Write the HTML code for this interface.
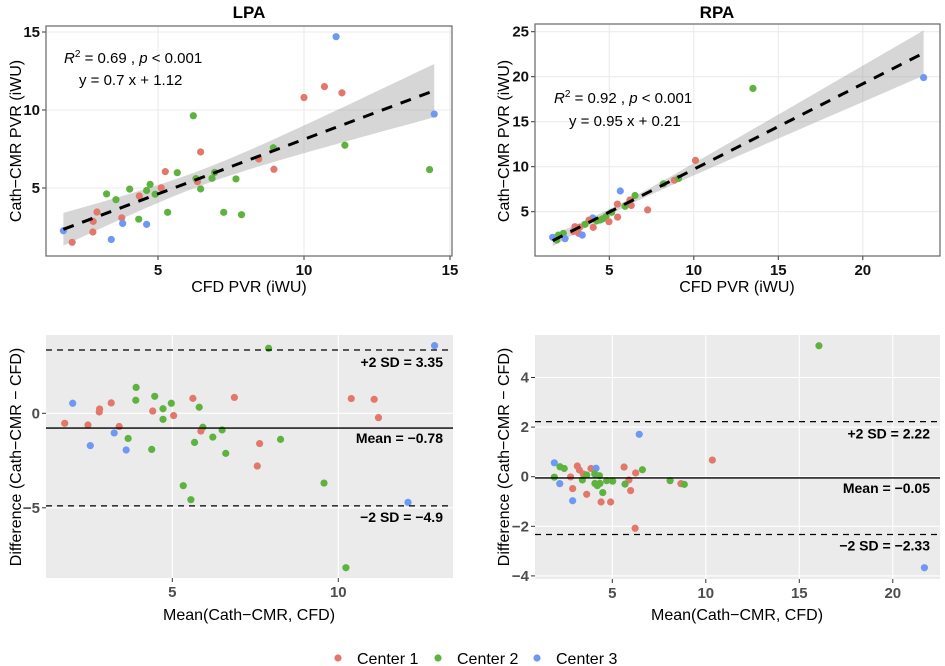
<!DOCTYPE html>
<html><head><meta charset="utf-8">
<style>
html,body{margin:0;padding:0;background:#fff;}
svg{display:block;font-family:"Liberation Sans",Arial,sans-serif;}
</style></head>
<body>
<svg id="chart" width="945" height="666" viewBox="0 0 945 666"></svg>
<script>
// ---- LPA scatter data ----
const lpaX=[11.1,10.7,11.3,10.0,14.46,6.21,8.95,11.4,6.46,8.45,8.97,14.3,5.25,5.66,6.94,6.3,6.35,6.85,7.67,6.46,5.11,4.73,4.61,4.03,4.36,3.24,3.56,2.91,2.78,3.76,3.79,4.34,4.61,5.33,7.25,7.86,2.77,3.4,1.76,2.06,4.9];
const lpaY=[14.7,11.5,11.1,10.8,9.74,9.63,7.58,7.74,7.31,6.86,6.2,6.18,6.05,5.98,6.0,5.6,5.41,5.62,5.58,4.94,5.01,5.23,4.84,4.93,4.49,4.62,4.25,3.46,2.86,3.09,2.73,3.0,2.67,3.44,3.44,3.29,2.18,1.7,2.26,1.52,4.6];
const lpaC=[3,1,1,1,3,2,2,2,1,1,1,2,1,2,2,2,1,2,2,2,1,2,2,2,1,2,2,1,1,1,3,2,3,2,2,2,1,3,3,1,2];
const lpaFit=[0.7,1.12];
// ---- RPA scatter data ----
const rpaX=[23.6,13.5,10.1,8.85,9.1,8.2,5.65,6.52,6.22,5.48,6.3,5.93,7.27,5.14,4.8,5.49,4.98,4.45,4.02,3.8,4.25,4.05,3.56,2.97,3.23,2.87,3.19,3.4,2.28,1.99,1.65,2.38,1.89,4.6];
const rpaY=[19.9,18.7,10.7,8.5,8.7,8.1,7.3,6.8,6.3,5.85,5.7,5.6,5.2,4.93,4.45,4.4,3.89,4.07,4.3,4.07,3.97,3.26,3.6,3.33,3.26,2.8,2.6,2.4,2.6,2.4,2.15,2.0,1.85,4.2];
const rpaC=[3,2,1,1,2,2,3,2,1,1,1,2,1,2,2,1,1,2,3,1,2,1,2,1,1,1,1,3,2,2,3,3,2,2];
const rpaFit=[0.95,0.21];
// ---- LPA Bland-Altman data ----
const baLX=[12.9,7.9,3.91,3.9,4.47,2.0,3.16,2.81,2.8,4.41,4.72,4.97,5.62,6.87,5.81,10.39,11.08,11.21,5.04,4.72,1.76,2.46,3.4,5.92,5.86,6.5,6.22,3.25,3.67,5.67,7.63,8.26,2.53,3.61,4.38,6.61,7.56,5.33,9.57,5.56,12.1,10.23];
const baLY=[3.58,3.44,1.37,0.69,0.9,0.53,0.55,0.23,0.07,0.12,0.24,0.53,0.79,0.84,0.32,0.78,0.74,-0.23,-0.12,-0.32,-0.53,-0.62,-0.7,-0.74,-0.94,-0.88,-1.26,-1.04,-1.33,-1.54,-1.6,-1.38,-1.71,-1.94,-1.91,-2.12,-2.79,-3.83,-3.69,-4.57,-4.71,-8.17];
const baLC=[3,2,2,2,2,3,1,1,1,1,2,2,1,1,2,1,1,1,1,2,1,1,1,2,1,2,2,3,2,2,1,2,3,3,2,2,1,2,2,2,3,2];
const baLLines=[3.35,-0.78,-4.9];
const baLLabels=["+2 SD = 3.35","Mean = \u22120.78","\u22122 SD = \u22124.9"];
// ---- RPA Bland-Altman data ----
const baRX=[16.05,6.44,10.35,1.9,2.2,2.43,3.13,3.24,3.86,4.13,5.63,6.61,3.45,3.63,4.06,4.31,2.77,1.9,6.25,3.4,4.7,5.02,8.09,5.89,4.07,4.34,4.2,8.67,8.85,5.68,2.19,2.88,5.98,4.49,3.63,2.88,4.4,4.91,6.22,21.69];
const baRY=[5.28,1.71,0.67,0.56,0.4,0.33,0.43,0.27,0.33,0.34,0.39,0.28,0.11,0.07,0.11,0.04,-0.01,-0.02,0.15,-0.13,-0.16,-0.18,-0.16,-0.13,-0.27,-0.27,-0.36,-0.28,-0.31,-0.3,-0.28,-0.48,-0.56,-0.64,-0.71,-0.97,-1.02,-1.02,-2.08,-3.67];
const baRC=[2,3,1,3,2,2,1,1,1,3,1,2,1,2,2,2,1,2,1,2,2,2,2,1,2,2,2,1,2,2,3,1,1,2,1,3,1,1,1,3];
const baRLines=[2.22,-0.05,-2.33];
const baRLabels=["+2 SD = 2.22","Mean = \u22120.05","\u22122 SD = \u22122.33"];
// ---- tick labels ----
const lpaXTicks=[5,10,15], lpaYTicks=[5,10,15];
const rpaXTicks=[5,10,15,20], rpaYTicks=[5,10,15,20,25];
const baLXTicks=[5,10], baLYTicks=[-5,0];
const baRXTicks=[5,10,15,20], baRYTicks=[-4,-2,0,2,4];

const colors={1:"#E2786C",2:"#5DB33D",3:"#6E98F3"};
const NS="http://www.w3.org/2000/svg";
const svg=document.getElementById('chart');
function mk(tag,attrs,parent){const e=document.createElementNS(NS,tag);for(const k in attrs)e.setAttribute(k,attrs[k]);(parent||svg).appendChild(e);return e;}
function lin(d0,d1,r0,r1){return v=>r0+(v-d0)*(r1-r0)/(d1-d0);}

function panel(o){
  const g=mk('g',{});
  
  
  const X=o.sx,Y=o.sy;
  const bg=mk('rect',{x:o.l,y:o.t,width:o.r-o.l,height:o.b-o.t,fill:o.ba?'#EBEBEB':'#fff'},g);
  
  
  const gc=o.ba?'#fff':'#EBEBEB';
  o.xt.forEach(v=>{const l=mk('line',{x1:X(v),x2:X(v),y1:o.t,y2:o.b,stroke:gc,'stroke-width':1.1},g);
    });
  o.yt.forEach(v=>{const l=mk('line',{x1:o.l,x2:o.r,y1:Y(v),y2:Y(v),stroke:gc,'stroke-width':1.1},g);
    });
  const tc=o.ba?'#4D4D4D':'#111';
  o.xt.forEach(v=>{mk('line',{x1:X(v),x2:X(v),y1:o.b,y2:o.b+4,stroke:'#333'},g);
    const t=mk('text',{x:X(v),y:o.b+19,'text-anchor':'middle','font-size':15,'font-weight':'bold',fill:tc},g);t.textContent=v;
    });
  o.yt.forEach(v=>{mk('line',{x1:o.l-4,x2:o.l,y1:Y(v),y2:Y(v),stroke:'#333'},g);
    const t=mk('text',{x:o.l-6,y:Y(v)+5,'text-anchor':'end','font-size':15,'font-weight':'bold',fill:tc},g);t.textContent=String(v).replace('-','\u2212');
    });
  if(o.fit){
    const xs=o.px, n=xs.length, m=xs.reduce((a,b)=>a+b,0)/n;
    const x0=Math.min(...xs),x1=Math.max(...xs);
    const up=[],lo=[];
    for(let i=0;i<=40;i++){const x=x0+(x1-x0)*i/40;const yy=o.fit[0]*x+o.fit[1];const hw=Math.sqrt(o.band[0]+o.band[1]*(x-m)*(x-m));
      up.push(X(x)+','+Y(yy+hw));lo.unshift(X(x)+','+Y(yy-hw));}
    const band=mk('polygon',{points:up.concat(lo).join(' '),fill:'#999','fill-opacity':0.4},g);
    
  }
  o.px.forEach((x,i)=>{const c=mk('circle',{cx:X(x),cy:Y(o.py[i]),r:3.6,fill:colors[o.pc[i]]},g);
    });
  if(o.fit){
    const x0=Math.min(...o.px),x1=Math.max(...o.px);
    const l=mk('line',{x1:X(x0),y1:Y(o.fit[0]*x0+o.fit[1]),x2:X(x1),y2:Y(o.fit[0]*x1+o.fit[1]),stroke:'#000','stroke-width':3,'stroke-dasharray':'11,9'},g);
    
  }
  if(o.lines){
    o.lines.forEach((v,i)=>{const l=mk('line',{x1:o.l,x2:o.r,y1:Y(v),y2:Y(v),stroke:'#000','stroke-width':1.3,'stroke-dasharray':i==1?'none':'6,5'},g);
      
      const t=mk('text',{x:o.r-10,y:Y(v)+(i==1?15:-2)+(i==0?19:i==2?18:0),'text-anchor':'end','font-size':14,'font-weight':'bold',fill:'#000'},g);
      t.textContent=o.labels[i];});
  }
  if(!o.ba){const b=mk('rect',{x:o.l,y:o.t,width:o.r-o.l,height:o.b-o.t,fill:'none',stroke:'#666','stroke-width':1.2},g);
    }
}
panel({name:'lpa-scatter',l:46,r:452,t:26,b:256,sx:lin(0,5,12,158),sy:lin(0,5,266,188),xt:lpaXTicks,yt:lpaYTicks,px:lpaX,py:lpaY,pc:lpaC,fit:lpaFit,band:[0.25,0.0408]});
panel({name:'rpa-scatter',l:535,r:940,t:24,b:256,sx:lin(0,5,524.8,609.3),sy:lin(0,5,256.7,211.7),xt:rpaXTicks,yt:rpaYTicks,px:rpaX,py:rpaY,pc:rpaC,fit:rpaFit,band:[0.09,0.0193]});
panel({name:'lpa-bland-altman',ba:true,l:46,r:453,t:335,b:578,sx:lin(0,5,6.3,172.3),sy:lin(0,5,413.3,318.8),xt:baLXTicks,yt:baLYTicks,px:baLX,py:baLY,pc:baLC,lines:baLLines,labels:baLLabels});
panel({name:'rpa-bland-altman',ba:true,l:535,r:940,t:335,b:579,sx:lin(0,5,518.8,612.3),sy:lin(0,2,476.7,427.1),xt:baRXTicks,yt:baRYTicks,px:baRX,py:baRY,pc:baRC,lines:baRLines,labels:baRLabels});

function txt(s,attrs,name){const t=mk('text',attrs);t.textContent=s;return t;}
txt('LPA',{x:249,y:18,'text-anchor':'middle','font-size':17,'font-weight':'bold'},'lpa-title');
txt('RPA',{x:717,y:18,'text-anchor':'middle','font-size':17,'font-weight':'bold'},'rpa-title');
txt('CFD PVR (iWU)',{x:249,y:292,'text-anchor':'middle','font-size':16},'x-axis-title');
txt('CFD PVR (iWU)',{x:737,y:292,'text-anchor':'middle','font-size':16},'x-axis-title');
txt('Mean(Cath\u2212CMR, CFD)',{x:249,y:620,'text-anchor':'middle','font-size':16},'x-axis-title');
txt('Mean(Cath\u2212CMR, CFD)',{x:737,y:620,'text-anchor':'middle','font-size':16},'x-axis-title');
txt('Cath\u2212CMR PVR (iWU)',{x:0,y:0,'text-anchor':'middle','font-size':16,transform:'translate(21,141) rotate(-90)'},'y-axis-title');
txt('Cath\u2212CMR PVR (iWU)',{x:0,y:0,'text-anchor':'middle','font-size':16,transform:'translate(509,141) rotate(-90)'},'y-axis-title');
txt('Difference (Cath\u2212CMR \u2212 CFD)',{x:0,y:0,'text-anchor':'middle','font-size':16,transform:'translate(21,457) rotate(-90)'},'y-axis-title');
txt('Difference (Cath\u2212CMR \u2212 CFD)',{x:0,y:0,'text-anchor':'middle','font-size':16,transform:'translate(509,457) rotate(-90)'},'y-axis-title');
// annotations
const a1=mk('text',{x:64,y:63,'font-size':15});
a1.innerHTML='<tspan font-style="italic">R</tspan><tspan dy="-6" font-size="10">2</tspan><tspan dy="6"> = 0.69 , </tspan><tspan font-style="italic">p</tspan><tspan> &lt; 0.001</tspan>';
txt('y = 0.7 x + 1.12',{x:79,y:85,'font-size':15},'lpa-equation');
const a2=mk('text',{x:554,y:103,'font-size':15});
a2.innerHTML='<tspan font-style="italic">R</tspan><tspan dy="-6" font-size="10">2</tspan><tspan dy="6"> = 0.92 , </tspan><tspan font-style="italic">p</tspan><tspan> &lt; 0.001</tspan>';
txt('y = 0.95 x + 0.21',{x:569,y:126,'font-size':15},'rpa-equation');
// legend
const legX=[338,438,537], legN=['Center 1','Center 2','Center 3'];
legN.forEach((n,i)=>{const c=mk('circle',{cx:legX[i],cy:658,r:3.6,fill:colors[i+1]});
  
  txt(n,{x:legX[i]+19,y:664,'font-size':16},'legend-entry');});
</script>
</body></html>
